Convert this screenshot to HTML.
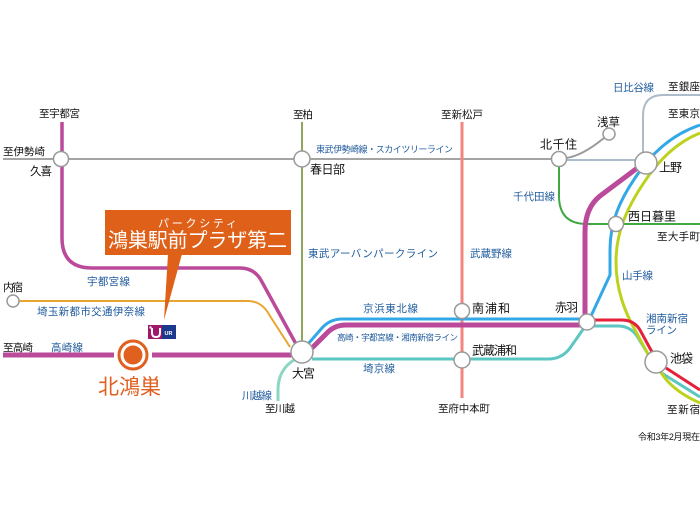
<!DOCTYPE html>
<html><head><meta charset="utf-8"><style>
html,body{margin:0;padding:0;background:#fff;}
svg{display:block;}
text{font-family:"Liberation Sans","Noto Sans CJK JP",sans-serif;}
.k{fill:#111;}
.b{fill:#1e5a9c;}
</style></head><body>
<svg width="700" height="525" viewBox="0 0 700 525" xmlns="http://www.w3.org/2000/svg">
<rect width="700" height="525" fill="#fff"/>
<g fill="none" stroke-linecap="butt">
<!-- Tobu Isesaki -->
<path d="M3,159 H559" stroke="#a4a4a4" stroke-width="2"/>
<!-- Asakusa branch -->
<path d="M566,158 Q582,156 604,138" stroke="#9a9a9a" stroke-width="2"/>
<!-- Hibiya -->
<path d="M559,160 H646 M643,155 V116 Q643,95 663,95 H700" stroke="#adbccb" stroke-width="2"/>
<!-- Chiyoda -->
<path d="M559,166 V196 Q559,224 587,224 H700" stroke="#3fa843" stroke-width="2"/>
<!-- Tobu Urban Park -->
<path d="M302,122 V350" stroke="#8fa65a" stroke-width="2"/>
<!-- Musashino -->
<path d="M462,122 V398" stroke="#f3847f" stroke-width="3"/>
<!-- Utsunomiya line from Kuki -->
<path d="M62,122 V238 Q62,268 92,268 H240 Q255,268 262,282 L296,344" stroke="#bb4a9b" stroke-width="3.5"/>
<!-- New Shuttle -->
<path d="M19,301 H248 Q262,301 270,316 L290,347" stroke="#e8a630" stroke-width="2"/>
<!-- Kawagoe -->
<path d="M294,360 Q278,370 278,390 V401" stroke="#8ed6c4" stroke-width="3"/>
<!-- Saikyo -->
<path d="M312,359 H548 Q562,359 570,348 L584,328" stroke="#5cc6c2" stroke-width="3"/>
<path d="M594,326 H618 Q630,326 637,336 L648,354 M660,372 L700,397" stroke="#5cc6c2" stroke-width="3"/>
<!-- Yamanote -->
<path d="M700,133 C675,143 657,162 643,184 C627,208 616,232 616,262 C616,290 625,312 635,330 L650,358 L662,374 C670,386 684,396 700,403" stroke="#bcd21e" stroke-width="3"/>
<!-- Shonan Shinjuku red -->
<path d="M594,320 H622 Q634,320 640,330 L652,352 M666,368 L700,390" stroke="#e5203a" stroke-width="3"/>
<!-- Keihin-Tohoku -->
<path d="M308,344 L322,328 Q330,319 342,319 H588" stroke="#33a8e6" stroke-width="3"/>
<path d="M700,125 C670,135 650,155 635,178 C620,200 610,222 610,250 L610,275 L591,316" stroke="#33a8e6" stroke-width="3"/>
<!-- Takasaki thick -->
<path d="M3,355 H114 M152,355 H292" stroke="#bb4a9b" stroke-width="5"/>
<path d="M312,348 L326,334 Q334,325 346,325 H587" stroke="#bb4a9b" stroke-width="5"/>
<path d="M585,322 V232 Q585,208 600,196 L640,166" stroke="#bb4a9b" stroke-width="5"/>
</g>
<!-- stations -->
<g fill="#fff" stroke="#999" stroke-width="1.5">
<circle cx="61" cy="159" r="7.5"/>
<circle cx="302" cy="159" r="8"/>
<circle cx="559" cy="159" r="7.5"/>
<circle cx="609" cy="134" r="6"/>
<circle cx="646" cy="163" r="11"/>
<circle cx="616" cy="224" r="7.5"/>
<circle cx="13" cy="301" r="6"/>
<circle cx="302" cy="352" r="11"/>
<circle cx="462" cy="311" r="7.5"/>
<circle cx="462" cy="360" r="8"/>
<circle cx="587" cy="322" r="8"/>
<circle cx="656" cy="362" r="11"/>
</g>
<!-- Kitakonosu -->
<circle cx="133" cy="355" r="14" fill="#fff" stroke="#e06020" stroke-width="3"/>
<circle cx="133" cy="355" r="9.5" fill="#e06020"/>
<!-- Callout -->
<rect x="105" y="210" width="186" height="45" fill="#df6018"/>
<polygon points="168,254 182,254 164,320" fill="#df6018"/>
<text x="158" y="227" font-size="11" fill="#fff" textLength="79">パークシティ</text>
<text x="108" y="247" font-size="20" fill="#fff" textLength="179">鴻巣駅前プラザ第二</text>
<!-- UR logo -->
<rect x="148" y="325" width="14" height="14" fill="#a0186a"/>
<rect x="162" y="325" width="14" height="14" fill="#1c3a8c"/>
<path d="M152,328 V333 Q152,337 156,337 Q160,337 160,333 V328" fill="none" stroke="#fff" stroke-width="2"/>
<circle cx="150.5" cy="327.5" r="1.2" fill="#fff"/>
<text x="164.5" y="335" font-size="5.5" fill="#fff" font-weight="bold">UR</text>
<!-- black labels -->
<g class="k">
<text x="39" y="117" font-size="10.5" textLength="41">至宇都宮</text>
<text x="3" y="155" font-size="10.5" textLength="42">至伊勢崎</text>
<text x="30" y="175" font-size="11.5" textLength="22">久喜</text>
<text x="293" y="118" font-size="10.5" textLength="20">至柏</text>
<text x="310" y="173.5" font-size="12" textLength="35">春日部</text>
<text x="441" y="118" font-size="10.5" textLength="42">至新松戸</text>
<text x="668" y="90" font-size="10.5" textLength="32">至銀座</text>
<text x="597" y="126" font-size="11.5" textLength="23">浅草</text>
<text x="668" y="117" font-size="10.5" textLength="32">至東京</text>
<text x="540" y="148.5" font-size="12" textLength="37">北千住</text>
<text x="659" y="171.5" font-size="12" textLength="23">上野</text>
<text x="628" y="220.5" font-size="12" textLength="48">西日暮里</text>
<text x="657" y="240" font-size="10.5" textLength="43">至大手町</text>
<text x="3" y="291" font-size="11" textLength="20">内宿</text>
<text x="472" y="312.5" font-size="12" textLength="38">南浦和</text>
<text x="555" y="311.5" font-size="12" textLength="23">赤羽</text>
<text x="3" y="351" font-size="10.5" textLength="30">至高崎</text>
<text x="472" y="354.5" font-size="12" textLength="45">武蔵浦和</text>
<text x="670" y="362.5" font-size="12" textLength="23">池袋</text>
<text x="292" y="377.5" font-size="12" textLength="23">大宮</text>
<text x="265" y="412" font-size="10.5" textLength="30">至川越</text>
<text x="438" y="412" font-size="10.5" textLength="52">至府中本町</text>
<text x="667" y="413" font-size="10.5" textLength="33">至新宿</text>
<text x="638" y="440" font-size="9" textLength="62">令和3年2月現在</text>
</g>
<!-- blue line labels -->
<g class="b">
<text x="316" y="152.5" font-size="9" textLength="137">東武伊勢崎線・スカイツリーライン</text>
<text x="613" y="91" font-size="10.5" textLength="41">日比谷線</text>
<text x="513" y="200" font-size="10.5" textLength="42">千代田線</text>
<text x="308" y="257" font-size="10.5" textLength="130">東武アーバンパークライン</text>
<text x="470" y="257" font-size="10.5" textLength="42">武蔵野線</text>
<text x="87" y="285" font-size="10.5" textLength="43">宇都宮線</text>
<text x="37" y="315" font-size="10.5" textLength="108">埼玉新都市交通伊奈線</text>
<text x="622" y="279" font-size="10.5" textLength="31">山手線</text>
<text x="363" y="312" font-size="10.5" textLength="55">京浜東北線</text>
<text x="646" y="322" font-size="10.5" textLength="42">湘南新宿</text>
<text x="646" y="333.5" font-size="10.5" textLength="31">ライン</text>
<text x="337" y="340.5" font-size="8.5" textLength="121">高崎・宇都宮線・湘南新宿ライン</text>
<text x="51" y="351" font-size="10.5" textLength="32">高崎線</text>
<text x="363" y="372" font-size="10.5" textLength="32">埼京線</text>
<text x="242" y="399" font-size="10.5" textLength="30">川越線</text>
</g>
<text x="98" y="394" font-size="21" fill="#e06020" textLength="63">北鴻巣</text>
</svg>
</body></html>
